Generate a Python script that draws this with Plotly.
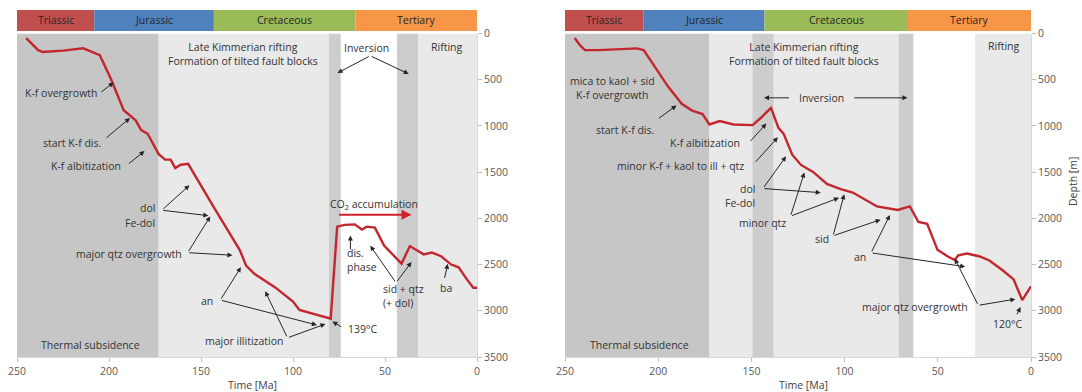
import plotly.graph_objects as go

# ---------------- data ----------------
period_names = ["Triassic", "Jurassic", "Cretaceous", "Tertiary"]
period_start = [250, 208, 143, 66]
period_end = [208, 143, 66, 0]

x_ticks = [250, 200, 150, 100, 50, 0]
y_ticks = [0, 500, 1000, 1500, 2000, 2500, 3000, 3500]

left_age = [245, 242.5, 238.5, 236, 225, 214, 205, 199, 192, 185.5, 182.5, 179, 176, 173,
            169.5, 166.5, 164, 161, 157, 150, 143, 136, 129, 125.5, 121, 109.5, 100, 96.5,
            89, 79.5, 76, 72, 66.5, 62.5, 60, 55.5, 50.5, 46, 41, 36.5, 29, 24.5, 19.5, 14,
            10, 5.5, 2, 0]
left_depth = [50, 100, 180, 200, 185, 160, 235, 490, 830, 940, 1045, 1085, 1195, 1305,
              1365, 1365, 1455, 1420, 1410, 1650, 1880, 2110, 2340, 2510, 2600, 2750, 2900, 2990,
              3030, 3085, 2090, 2070, 2065, 2120, 2090, 2100, 2295, 2390, 2490, 2300, 2390, 2370, 2410, 2500,
              2530, 2660, 2750, 2750]

right_age = [244.8, 242.1, 239.3, 231.9, 211.5, 207.8, 202.2, 194.8, 187.4, 181.8, 176.2,
             172.5, 167, 159.6, 149.4, 144.7, 139.5, 135.5, 132.7, 128.1, 123.4, 116.9,
             109.5, 102.1, 95.6, 89.1, 82.6, 71.5, 65, 60.4, 55.7, 50.2, 44.6, 40.9, 39,
             34.4, 27.9, 22.3, 14.9, 9.3, 4.7, 0]
right_depth = [49, 124, 180, 180, 161, 180, 348, 572, 760, 834, 872,
               984, 947, 984, 991, 909, 804, 1021, 1085, 1311, 1422, 1497,
               1628, 1684, 1721, 1796, 1871, 1909, 1871, 2040, 2058, 2339, 2413, 2451, 2399,
               2381, 2410, 2456, 2567, 2661, 2885, 2736]

left_band_start = [250, 173, 80.5, 74, 43.5, 32]
left_band_end = [173, 80.5, 74, 43.5, 32, 0]
left_band_kind = ["dark", "light", "strip", "white", "strip", "light"]

right_band_start = [250, 172.5, 149.5, 138, 71, 63, 30]
right_band_end = [172.5, 149.5, 138, 71, 63, 30, 0]
right_band_kind = ["dark", "light", "strip", "light", "strip", "white", "light"]

# ---------------- style ----------------
W, H = 1082, 392
FONT = "Open Sans"
FS = 10.5
RED = "#c3262e"
TXT = "#333333"
ARR = "#262626"
period_colors = ["#c0504d", "#4f81bd", "#9bbb59", "#f79646"]
band_colors = {"dark": "#c6c6c6", "light": "#e9e9e9", "strip": "#cdcdcd", "white": "#ffffff"}

def py(p):
    return 1 - p / H

fig = go.Figure()
fig.add_trace(go.Scatter(x=left_age, y=left_depth, mode="lines", xaxis="x", yaxis="y",
                         line=dict(color=RED, width=2.4), showlegend=False, hoverinfo="skip"))
fig.add_trace(go.Scatter(x=right_age, y=right_depth, mode="lines", xaxis="x2", yaxis="y2",
                         line=dict(color=RED, width=2.4), showlegend=False, hoverinfo="skip"))

shapes = []
annotations = []

def bands(xref, yref, starts, ends, kinds):
    for s, e, k in zip(starts, ends, kinds):
        shapes.append(dict(type="rect", xref=xref, yref=yref, x0=s, x1=e, y0=0, y1=3500,
                           fillcolor=band_colors[k], line=dict(width=0), layer="below"))

def period_bar(xref):
    for n, s, e, c in zip(period_names, period_start, period_end, period_colors):
        shapes.append(dict(type="rect", xref=xref, yref="paper", x0=s, x1=e,
                           y0=py(31), y1=py(10), fillcolor=c, line=dict(width=0), layer="below"))
        annotations.append(dict(x=(s + e) / 2, y=py(20.5), xref=xref, yref="paper", text=n,
                                showarrow=False, xanchor="center", yanchor="middle",
                                font=dict(family=FONT, size=FS, color="#262626")))

def label(xref, yref, x, y, text, xanchor="center", align="center", color=TXT):
    annotations.append(dict(x=x, y=y, xref=xref, yref=yref, text=text, showarrow=False,
                            xanchor=xanchor, yanchor="middle", align=align,
                            font=dict(family=FONT, size=FS, color=color)))

def arrow(xref, yref, tail, head, color=ARR, width=1, size=1):
    annotations.append(dict(x=head[0], y=head[1], ax=tail[0], ay=tail[1], xref=xref, yref=yref,
                            axref=xref, ayref=yref, text="", showarrow=True, arrowhead=2,
                            arrowsize=size, arrowwidth=width, arrowcolor=color,
                            standoff=0, startstandoff=0))

bands("x", "y", left_band_start, left_band_end, left_band_kind)
bands("x2", "y2", right_band_start, right_band_end, right_band_kind)
period_bar("x")
period_bar("x2")

# ---- left panel labels ----
L = ("x", "y")
label(*L, 127.3, 220, "Late Kimmerian rifting<br>Formation of tilted fault blocks")
label(*L, 60, 152, "Inversion")
arrow(*L, (58, 241), (75.8, 427))
arrow(*L, (58, 241), (37.1, 438))
label(*L, 16.4, 141, "Rifting")
label(*L, 226.1, 644, "K-f overgrowth")
arrow(*L, (205, 644), (197.5, 531))
label(*L, 220, 1189, "start K-f dis.")
arrow(*L, (202.2, 1142), (188.6, 915))
label(*L, 212.5, 1432, "K-f albitization")
arrow(*L, (190, 1421), (180.7, 1272))
label(*L, 174, 1886, "dol", xanchor="right")
label(*L, 174, 2046, "Fe-dol", xanchor="right")
arrow(*L, (171.3, 1912), (156.3, 1643))
arrow(*L, (171.3, 1912), (146, 1971))
label(*L, 189.1, 2389, "major qtz overgrowth")
arrow(*L, (157.2, 2371), (145, 1979))
arrow(*L, (157.2, 2371), (132.9, 2399))
label(*L, 147, 2894, "an")
arrow(*L, (139.5, 2884), (128.3, 2528))
arrow(*L, (139.5, 2884), (87, 3154))
label(*L, 126.4, 3330, "major illitization")
arrow(*L, (103, 3293), (115.1, 2789))
arrow(*L, (103, 3293), (82.4, 3143))
label(*L, 62.2, 3200, "139°C")
arrow(*L, (73, 3182), (78.6, 3117))
label(*L, 210.3, 3370, "Thermal subsidence")
label(*L, 56.2, 1850, "CO<sub>2</sub> accumulation")
arrow(*L, (75.8, 1961), (35.6, 1961), color="#d0202a", width=2)
label(*L, 71.7, 2451, "dis.<br>phase", xanchor="left", align="left")
arrow(*L, (68.8, 2350), (68.8, 2185))
label(*L, 52.2, 2840, "sid + qtz<br>(+ dol)", xanchor="left", align="left")
arrow(*L, (44, 2697), (58, 2296))
arrow(*L, (44, 2697), (35.6, 2473))
label(*L, 16.8, 2753, "ba")
arrow(*L, (17.8, 2660), (15.9, 2492))

# ---- right panel labels ----
R = ("x2", "y2")
label(*R, 121.6, 218, "Late Kimmerian rifting<br>Formation of tilted fault blocks")
label(*R, 14.5, 135, "Rifting")
label(*R, 112.3, 696, "Inversion")
arrow(*R, (129.0, 696), (143.2, 696))
arrow(*R, (95.6, 696), (66.3, 696))
label(*R, 224.5, 585, "mica to kaol + sid<br>K-f overgrowth")
label(*R, 218, 1041, "start K-f dis.")
arrow(*R, (200.4, 929), (190.2, 778))
label(*R, 174.9, 1190, "K-f albitization")
arrow(*R, (151.2, 1180), (142, 974))
label(*R, 187.8, 1430, "minor K-f + kaol to ill + qtz")
arrow(*R, (148.4, 1404), (135.8, 1123))
label(*R, 147, 1677, "dol", xanchor="right")
label(*R, 147, 1835, "Fe-dol", xanchor="right")
arrow(*R, (143.8, 1677), (131.4, 1329))
arrow(*R, (143.8, 1677), (112.8, 1722))
label(*R, 143.8, 2051, "minor qtz")
arrow(*R, (129, 1976), (121.6, 1505))
arrow(*R, (129, 1976), (103, 1778))
label(*R, 112.3, 2227, "sid")
arrow(*R, (106.2, 2189), (100.2, 1740))
arrow(*R, (106.2, 2189), (80.7, 2014))
label(*R, 91.9, 2418, "an")
arrow(*R, (85.8, 2373), (75.7, 1964))
arrow(*R, (85.8, 2373), (35.3, 2523))
label(*R, 62.2, 2960, "major qtz overgrowth")
arrow(*R, (28.3, 2941), (40.9, 2436))
arrow(*R, (28.3, 2941), (8.4, 2874))
label(*R, 12.1, 3147, "120°C")
arrow(*R, (7.9, 3054), (5.6, 2960))
label(*R, 210, 3370, "Thermal subsidence")

# axis titles
for xr in ("x", "x2"):
    annotations.append(dict(x=122, y=py(385), xref=xr, yref="paper", text="Time [Ma]",
                            showarrow=False, xanchor="center", yanchor="middle",
                            font=dict(family=FONT, size=FS, color="#404040")))
annotations.append(dict(x=1073 / W, y=py(182), xref="paper", yref="paper", text="Depth [m]",
                        showarrow=False, textangle=-90, xanchor="center", yanchor="middle",
                        font=dict(family=FONT, size=FS, color="#404040")))

xax = dict(range=[250, 0], tickvals=x_ticks, ticks="outside", ticklen=4, tickcolor="#bfbfbf",
           showline=True, linecolor="#d9d9d9", linewidth=1, showgrid=False, zeroline=False,
           tickfont=dict(family=FONT, size=FS, color="#595959"), fixedrange=True,
           automargin=False)
yax = dict(range=[3500, 0], tickvals=y_ticks, side="right", ticks="outside", ticklen=4,
           tickcolor="#bfbfbf", showline=True, linecolor="#d9d9d9", linewidth=1,
           showgrid=False, zeroline=False,
           tickfont=dict(family=FONT, size=FS, color="#595959"), fixedrange=True,
           automargin=False)

ydom = [py(357), py(33.5)]
fig.update_layout(
    width=W, height=H, margin=dict(l=0, r=0, t=0, b=0, autoexpand=False),
    paper_bgcolor="white", plot_bgcolor="white",
    xaxis=dict(xax, domain=[17 / W, 477 / W], anchor="y"),
    yaxis=dict(yax, domain=ydom, anchor="x"),
    xaxis2=dict(xax, domain=[565 / W, 1031 / W], anchor="y2"),
    yaxis2=dict(yax, domain=ydom, anchor="x2"),
    shapes=shapes, annotations=annotations, showlegend=False,
    font=dict(family=FONT, size=FS, color=TXT),
)

fig.write_html("out.html", config={"displayModeBar": False},
               post_script="document.body.style.margin='0';document.body.style.overflow='hidden';")
